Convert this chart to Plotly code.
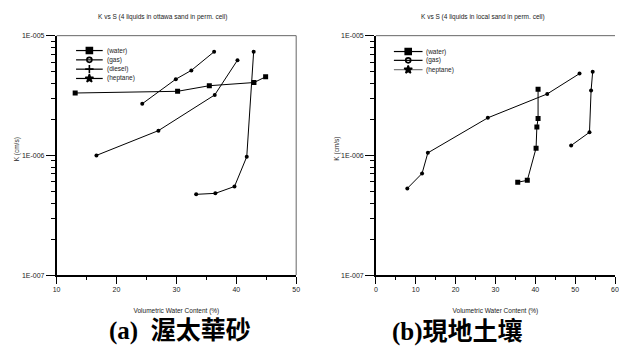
import plotly.graph_objects as go

# ---------------- data ----------------
# (a) Ottawa sand
a_water_x = [13.1, 30.2, 35.5, 42.95, 44.9]
a_water_y = [3.32e-6, 3.43e-6, 3.82e-6, 4.06e-6, 4.53e-6]
a_diesel_x = [24.3, 29.9, 32.5, 36.3]
a_diesel_y = [2.70e-6, 4.33e-6, 5.13e-6, 7.34e-6]
a_gas_x = [16.65, 27.0, 36.4, 40.2]
a_gas_y = [1.0e-6, 1.61e-6, 3.20e-6, 6.24e-6]
a_hept_x = [33.3, 36.5, 39.7, 41.75, 42.9]
a_hept_y = [4.73e-7, 4.82e-7, 5.50e-7, 9.75e-7, 7.34e-6]

# (b) local sand
b_water_x = [35.6, 38.0, 40.2, 40.4, 40.7, 40.7]
b_water_y = [5.97e-7, 6.19e-7, 1.15e-6, 1.73e-6, 2.03e-6, 3.57e-6]
b_gas_x = [7.9, 11.6, 13.05, 28.1, 43.0, 51.1]
b_gas_y = [5.30e-7, 7.07e-7, 1.05e-6, 2.06e-6, 3.26e-6, 4.82e-6]
b_hept_x = [49.0, 53.6, 54.0, 54.4]
b_hept_y = [1.21e-6, 1.56e-6, 3.48e-6, 5.0e-6]

a_legend = ["(water)", "(gas)", "(diesel)", "(heptane)"]
a_legend_sym = ["square", "circle-open", "cross-thin", "star"]
b_legend = ["(water)", "(gas)", "(heptane)"]
b_legend_sym = ["square", "circle-open", "star"]

y_tickvals = [1e-7, 1e-6, 1e-5]
y_ticktext = ["1E-007", "1E-006", "1E-005"]
y_minor = [m * 10 ** e for e in (-7, -6) for m in range(2, 10)]

title_a = "K vs S (4 liquids in ottawa sand in perm. cell)"
title_b = "K vs S (4 liquids in local sand in perm. cell)"
xlabel = "Volumetric Water Content (%)"
ylabel = "K (cm/s)"
cap_a = "(a)  渥太華砂"
cap_b = "(b)現地土壤"

FONT = "Liberation Sans, Arial, sans-serif"
W, H = 619, 349

fig = go.Figure()


def series(x, y, xa, ya, sym, size):
    fig.add_trace(go.Scatter(x=x, y=y, xaxis=xa, yaxis=ya, mode="lines+markers",
                             line=dict(color="black", width=1),
                             marker=dict(symbol=sym, size=size, color="black"),
                             showlegend=False, name=""))


series(a_water_x, a_water_y, "x", "y", "square", 5)
series(a_diesel_x, a_diesel_y, "x", "y", "circle", 4)
series(a_gas_x, a_gas_y, "x", "y", "circle", 4)
series(a_hept_x, a_hept_y, "x", "y", "circle", 4)
series(b_water_x, b_water_y, "x2", "y2", "square", 5)
series(b_gas_x, b_gas_y, "x2", "y2", "circle", 4)
series(b_hept_x, b_hept_y, "x2", "y2", "circle", 4)

ydom = [0.2072, 0.9074]
common_x = dict(showline=True, linecolor="black", linewidth=1.5, ticks="outside",
                ticklen=7, tickwidth=1.2, tickcolor="black", showgrid=False, zeroline=False,
                tickfont=dict(size=7, family=FONT, color="#222"),
                title=dict(text=xlabel, font=dict(size=6.5, family=FONT, color="#222"), standoff=16),
                minor=dict(ticks="outside", ticklen=3, tickcolor="black", dtick=5, tickwidth=1.2))
common_y = dict(type="log", range=[-7, -5], showline=True, linecolor="black", linewidth=1.5,
                ticks="outside", ticklen=9, tickwidth=1.2, tickcolor="black", showgrid=False,
                zeroline=False, tickmode="array", tickvals=y_tickvals, ticktext=y_ticktext,
                tickfont=dict(size=7, family=FONT, color="#222"),
                minor=dict(ticks="outside", ticklen=4, tickcolor="black", tickmode="array",
                           tickvals=y_minor, tickwidth=1))

fig.update_layout(
    width=W, height=H, margin=dict(l=0, r=0, t=0, b=0),
    paper_bgcolor="white", plot_bgcolor="rgba(0,0,0,0)", showlegend=False,
    xaxis=dict(domain=[53.3 / W, 296 / W], range=[10, 50], dtick=10, anchor="y", **common_x),
    yaxis=dict(domain=ydom, anchor="x", **common_y),
    xaxis2=dict(domain=[376.7 / W, 1.0], range=[0, 60], dtick=10, anchor="y2", **common_x),
    yaxis2=dict(domain=ydom, anchor="x2", **common_y),
    # overlay axes in pixel units, used only to draw the hand-made legends
    xaxis3=dict(domain=[0, 1], range=[0, W], visible=False, anchor="y3", fixedrange=True),
    yaxis3=dict(domain=[0, 1], range=[H, 0], visible=False, anchor="x3", fixedrange=True),
)

# thin frame on top and right (left panel), top (right panel)
fig.add_shape(type="line", xref="x domain", yref="y domain", x0=0, x1=1, y0=1, y1=1,
              line=dict(color="#666", width=1))
fig.add_shape(type="line", xref="x domain", yref="y domain", x0=1, x1=1, y0=0, y1=1,
              line=dict(color="#666", width=1))
fig.add_shape(type="line", xref="x2 domain", yref="y2 domain", x0=0, x1=1, y0=1, y1=1,
              line=dict(color="#666", width=1))

# hand-made compact legends
leg_font = dict(size=6.5, family=FONT, color="#222")


def legend(labels, syms, x0, x1, ys, gray_last=False):
    for i, (lab, sym, yy) in enumerate(zip(labels, syms, ys)):
        col = "#777" if (gray_last and i == len(labels) - 1) else "black"
        fig.add_trace(go.Scatter(x=[x0, x1], y=[yy, yy], xaxis="x3", yaxis="y3", mode="lines",
                                 line=dict(color=col, width=1.2), showlegend=False,
                                 hoverinfo="skip"))
        msize = 6 if sym != "circle-open" else 5
        fig.add_trace(go.Scatter(x=[(x0 + x1) / 2], y=[yy], xaxis="x3", yaxis="y3",
                                 mode="markers", showlegend=False, hoverinfo="skip",
                                 marker=dict(symbol=sym, size=msize, color="black",
                                             line=dict(width=1.6, color="black"))))
        fig.add_annotation(text=lab, x=(x1 + 2) / W, y=1 - yy / H, xref="paper", yref="paper",
                           xanchor="left", yanchor="middle", showarrow=False, font=leg_font)


legend(a_legend, a_legend_sym, 73, 100, [47.5, 57, 66.5, 76])
legend(b_legend, b_legend_sym, 395, 424, [48.5, 57.5, 67], gray_last=True)

ann_font = dict(size=6.5, family=FONT, color="#222")
fig.add_annotation(text=title_a, x=161 / W, y=1 - 13 / H, xref="paper", yref="paper",
                   xanchor="center", yanchor="middle", showarrow=False, font=ann_font)
fig.add_annotation(text=title_b, x=485 / W, y=1 - 13 / H, xref="paper", yref="paper",
                   xanchor="center", yanchor="middle", showarrow=False, font=ann_font)
fig.add_annotation(text=ylabel, x=13.5 / W, y=1 - 148 / H, xref="paper", yref="paper",
                   xanchor="center", yanchor="middle",
                   showarrow=False, textangle=-90, font=ann_font)
fig.add_annotation(text=ylabel, x=337 / W, y=1 - 148 / H, xref="paper", yref="paper",
                   xanchor="center", yanchor="middle",
                   showarrow=False, textangle=-90, font=ann_font)
cap_font = dict(size=25, family="Liberation Serif, Noto Sans CJK TC, serif", color="black")
fig.add_annotation(text="<b>" + cap_a + "</b>", x=178 / W, y=1 - 334 / H, xref="paper",
                   yref="paper", xanchor="center", yanchor="middle", showarrow=False,
                   font=cap_font)
fig.add_annotation(text="<b>" + cap_b + "</b>", x=459 / W, y=1 - 334 / H, xref="paper",
                   yref="paper", xanchor="center", yanchor="middle", showarrow=False,
                   font=cap_font)

fig.write_html("out.html")
